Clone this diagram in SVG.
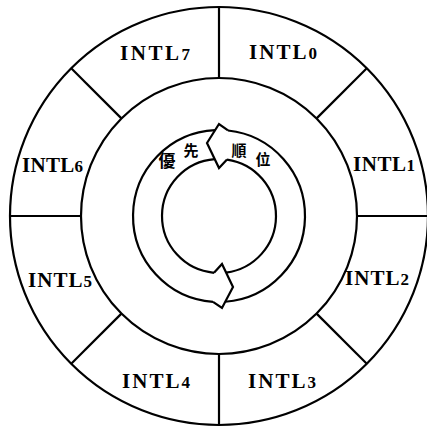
<svg xmlns="http://www.w3.org/2000/svg" width="427" height="428" viewBox="0 0 427 428">
<style>
.ln{fill:none;stroke:#000;stroke-width:2.2;stroke-linejoin:miter;stroke-linecap:butt}
.lbl{font-family:"Liberation Serif","DejaVu Serif",serif;font-weight:bold;font-size:21px;fill:#000}
.dg{font-size:17px}
.cjk{font-family:"Noto Sans CJK TC","Noto Sans CJK SC",sans-serif;font-weight:bold;fill:#000;text-anchor:middle}
</style>
<rect width="427" height="428" fill="#fff"/>
<g id="rings">
<circle class="ln" cx="219" cy="216" r="209"/>
<circle class="ln" cx="219" cy="216" r="138"/>
</g>
<g id="dividers">
<line class="ln" x1="219" y1="78" x2="219" y2="7"/>
<line class="ln" x1="219" y1="354" x2="219" y2="425"/>
<line class="ln" x1="81" y1="216" x2="10" y2="216"/>
<line class="ln" x1="357" y1="216" x2="428" y2="216"/>
<line class="ln" x1="121.4" y1="118.4" x2="71.2" y2="68.2"/>
<line class="ln" x1="316.6" y1="118.4" x2="366.8" y2="68.2"/>
<line class="ln" x1="121.4" y1="313.6" x2="71.2" y2="363.8"/>
<line class="ln" x1="316.6" y1="313.6" x2="366.8" y2="363.8"/>
</g>
<g id="INTL0"><text class="lbl" x="249" y="59" textLength="68">INTL<tspan class="dg">0</tspan></text></g>
<g id="INTL1"><text class="lbl" x="353" y="171" textLength="62">INTL<tspan class="dg">1</tspan></text></g>
<g id="INTL2"><text class="lbl" x="345" y="285" textLength="64">INTL<tspan class="dg">2</tspan></text></g>
<g id="INTL3"><text class="lbl" x="248" y="388" textLength="68">INTL<tspan class="dg">3</tspan></text></g>
<g id="INTL4"><text class="lbl" x="122" y="388" textLength="68">INTL<tspan class="dg">4</tspan></text></g>
<g id="INTL5"><text class="lbl" x="28" y="287" textLength="64">INTL<tspan class="dg">5</tspan></text></g>
<g id="INTL6"><text class="lbl" x="22" y="172" textLength="61">INTL<tspan class="dg">6</tspan></text></g>
<g id="INTL7"><text class="lbl" x="120" y="60" textLength="70">INTL<tspan class="dg">7</tspan></text></g>
<g id="cycle-arrows">
<path class="ln" d="M228,130.47 A86,86 0 0 1 225.26,301.77"/>
<path class="ln" d="M227,159.57 A57,57 0 0 1 226.09,272.56"/>
<path class="ln" d="M215.16,130.09 A86,86 0 0 0 213,301.79"/>
<path class="ln" d="M214.76,159.16 A57,57 0 0 0 214,272.78"/>
<path class="ln" d="M228,130.47 L219,124 L207,143 L219,168 L227,159.57"/>
<path class="ln" d="M214,272.78 L222,264 L233,287 L222,308 L213,301.79"/>
</g>
<g id="priority-label">
<text class="cjk" x="167" y="167" font-size="17">優</text>
<text class="cjk" x="191" y="156" font-size="15">先</text>
<text class="cjk" x="239" y="156" font-size="15">順</text>
<text class="cjk" x="263" y="165" font-size="15">位</text>
</g>
</svg>
